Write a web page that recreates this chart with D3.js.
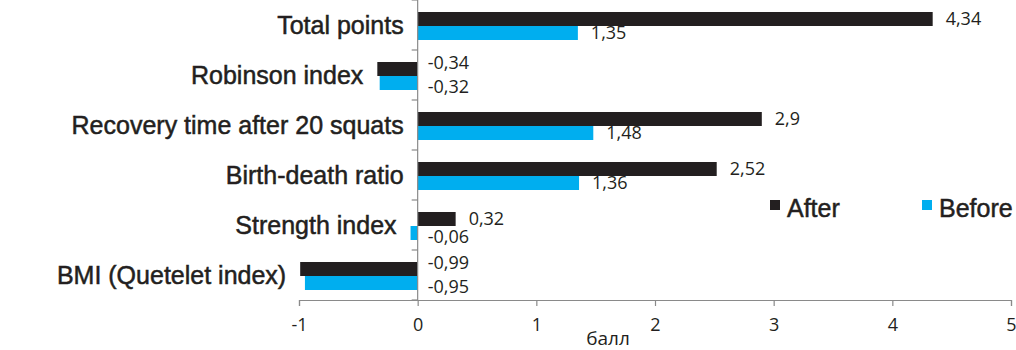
<!DOCTYPE html>
<html>
<head>
<meta charset="utf-8">
<script src="https://cdn.jsdelivr.net/npm/d3@7"></script>
<style>
  html, body { margin: 0; padding: 0; background: #fff; }
  svg { display: block; }
</style>
</head>
<body>
<svg id="chart" width="1016" height="350"></svg>
<script>
const categories = ["Total points", "Robinson index", "Recovery time after 20 squats", "Birth-death ratio", "Strength index", "BMI (Quetelet index)"];
const seriesNames = ["After", "Before"];
const afterValues = [4.34, -0.34, 2.9, 2.52, 0.32, -0.99];
const beforeValues = [1.35, -0.32, 1.48, 1.36, -0.06, -0.95];
const xTicks = [-1, 0, 1, 2, 3, 4, 5];
const xAxisTitle = "балл";

const colors = { After: "#231f20", Before: "#00aeef" };
const textColor = "#231f20";
const axisColor = "#8a8a8a";

const svg = d3.select("#chart");

const x = d3.scaleLinear().domain([-1, 5]).range([299, 1011]);
const y = d3.scaleBand().domain(categories).range([0, 300]).padding(0);
const ySub = d3.scaleBand().domain(seriesNames).range([12, 40]).padding(0);

const fmt = v => String(v).replace(".", ",");

const series = [
  { name: "After", values: afterValues },
  { name: "Before", values: beforeValues }
];

// bars
series.forEach(s => {
  svg.append("g").selectAll("rect")
    .data(s.values.map((v, i) => ({ v, c: categories[i] })))
    .join("rect")
    .attr("x", d => x(Math.min(0, d.v)))
    .attr("width", d => Math.abs(x(d.v) - x(0)))
    .attr("y", d => y(d.c) + ySub(s.name))
    .attr("height", ySub.bandwidth())
    .attr("fill", colors[s.name]);
});

// vertical category axis (at zero)
const yAxisG = svg.append("g").attr("transform", `translate(${x(0)},0)`);
yAxisG.append("line")
  .attr("x1", 0).attr("x2", 0).attr("y1", 0).attr("y2", 300)
  .attr("stroke", axisColor).attr("stroke-width", 1.2);
const boundaries = categories.map(c => y(c)).concat([300]);
yAxisG.selectAll("line.tk").data(boundaries).join("line")
  .attr("class", "tk")
  .attr("x1", -6).attr("x2", 0)
  .attr("y1", d => d).attr("y2", d => d)
  .attr("stroke", axisColor).attr("stroke-width", 1.2);

// x axis
const xAxis = d3.axisBottom(x).tickValues(xTicks).tickSize(6).tickPadding(12).tickFormat(d => fmt(d));
const xg = svg.append("g").attr("transform", "translate(0,300)").call(xAxis);
xg.select(".domain").attr("stroke", axisColor).attr("stroke-width", 1.2);
xg.selectAll(".tick line").attr("stroke", axisColor).attr("stroke-width", 1.2);
xg.selectAll(".tick text")
  .attr("font-family", "'Open Sans', sans-serif")
  .attr("font-size", 18)
  .attr("fill", textColor);

svg.append("text")
  .attr("x", 608).attr("y", 345)
  .attr("text-anchor", "middle")
  .attr("font-family", "'Open Sans', sans-serif")
  .attr("font-size", 19)
  .attr("fill", textColor)
  .text(xAxisTitle);

// category labels
svg.append("g").selectAll("text")
  .data(categories.map((c, i) => ({ c, m: Math.min(0, afterValues[i], beforeValues[i]) })))
  .join("text")
  .attr("x", d => x(d.m) - 14)
  .attr("y", d => y(d.c) + y.bandwidth() / 2)
  .attr("dy", "0.35em")
  .attr("text-anchor", "end")
  .attr("font-family", "'Liberation Sans', Arial, sans-serif")
  .attr("font-size", 25)
  .attr("fill", textColor)
  .attr("stroke", textColor)
  .attr("stroke-width", 0.5)
  .text(d => d.c);

// value labels
series.forEach(s => {
  svg.append("g").selectAll("text")
    .data(s.values.map((v, i) => ({ v, c: categories[i] })))
    .join("text")
    .attr("x", d => d.v >= 0 ? x(d.v) + 13 : x(0) + 10)
    .attr("y", d => y(d.c) + ySub(s.name) + ySub.bandwidth() / 2 + (d.v < 0 ? (s.name === "After" ? -6 : 4) : 0))
    .attr("dy", "0.35em")
    .attr("font-family", "'Open Sans', sans-serif")
    .attr("font-size", 18)
    .attr("fill", textColor)
    .text(d => fmt(d.v));
});

// legend
const legendPos = { After: [770, 200], Before: [922, 200] };
seriesNames.forEach(n => {
  const [lx, ly] = legendPos[n];
  svg.append("rect").attr("x", lx).attr("y", ly).attr("width", 10).attr("height", 10).attr("fill", colors[n]);
  svg.append("text")
    .attr("x", lx + 17).attr("y", ly + 8)
    .attr("dy", "0.35em")
    .attr("font-family", "'Liberation Sans', Arial, sans-serif")
    .attr("font-size", 25)
    .attr("fill", textColor)
    .attr("stroke", textColor)
    .attr("stroke-width", 0.5)
    .text(n);
});
</script>
</body>
</html>
